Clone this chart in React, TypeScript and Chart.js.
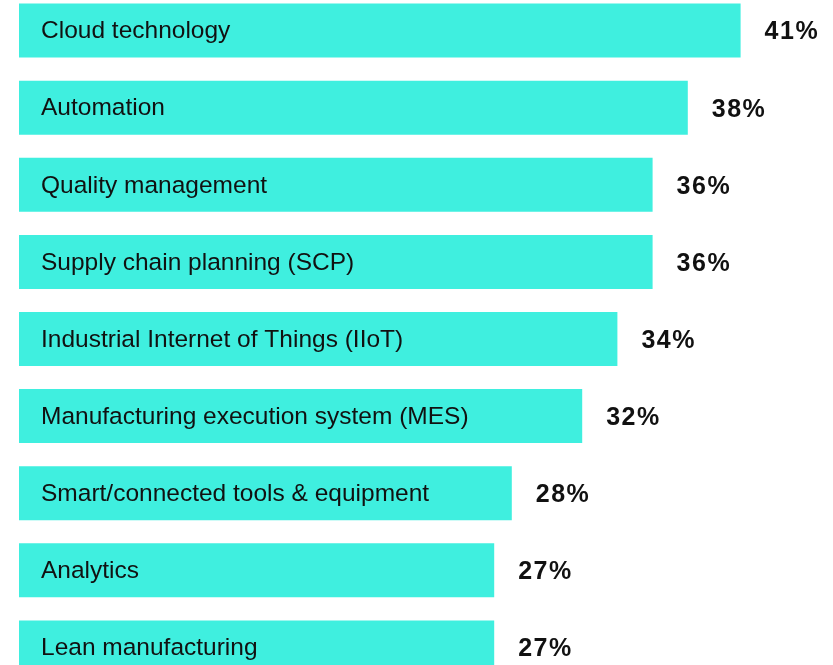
import React, { useEffect, useRef } from "react";
import { Chart, registerables } from "chart.js";

Chart.register(...registerables);

const categories = [
  "Cloud technology",
  "Automation",
  "Quality management",
  "Supply chain planning (SCP)",
  "Industrial Internet of Things (IIoT)",
  "Manufacturing execution system (MES)",
  "Smart/connected tools & equipment",
  "Analytics",
  "Lean manufacturing",
];
const values = [41, 38, 36, 36, 34, 32, 28, 27, 27];
const valueLabels = ["41%", "38%", "36%", "36%", "34%", "32%", "28%", "27%", "27%"];

const BAR_COLOR = "#3fefdf";

const labelPlugin = {
  id: "barLabels",
  afterDatasetsDraw(chart: any) {
    const ctx = chart.ctx;
    const meta = chart.getDatasetMeta(0);
    ctx.save();
    meta.data.forEach((bar: any, i: number) => {
      const y = bar.y;
      ctx.fillStyle = "#111";
      ctx.textBaseline = "middle";
      ctx.textAlign = "left";
      ctx.letterSpacing = "0px";
      ctx.font = "24.5px 'Liberation Sans', Arial, sans-serif";
      ctx.fillText(categories[i], chart.chartArea.left + 22, y + 1);
      ctx.letterSpacing = "1.5px";
      ctx.font = "bold 25px 'Liberation Sans', Arial, sans-serif";
      ctx.fillText(valueLabels[i], bar.x + 24, y + 2);
    });
    ctx.restore();
  },
};

export default function App() {
  const ref = useRef<HTMLCanvasElement | null>(null);
  useEffect(() => {
    if (!ref.current) return;
    const chart = new Chart(ref.current, {
      type: "bar",
      data: {
        labels: categories,
        datasets: [
          {
            data: values,
            backgroundColor: BAR_COLOR,
            borderWidth: 0,
            barPercentage: 0.7,
            categoryPercentage: 1,
          },
        ],
      },
      options: {
        indexAxis: "y",
        animation: false,
        responsive: true,
        maintainAspectRatio: false,
        layout: { padding: { left: 19, right: 22, top: 0, bottom: 0 } },
        plugins: { legend: { display: false }, tooltip: { enabled: false } },
        scales: {
          x: { display: false, min: 0, max: 45 },
          y: { display: false },
        },
      },
      plugins: [labelPlugin],
    });
    return () => chart.destroy();
  }, []);
  return (
    <div style={{ position: "absolute", left: 0, top: -8, width: 833, height: 694 }}>
      <canvas ref={ref} />
    </div>
  );
}
